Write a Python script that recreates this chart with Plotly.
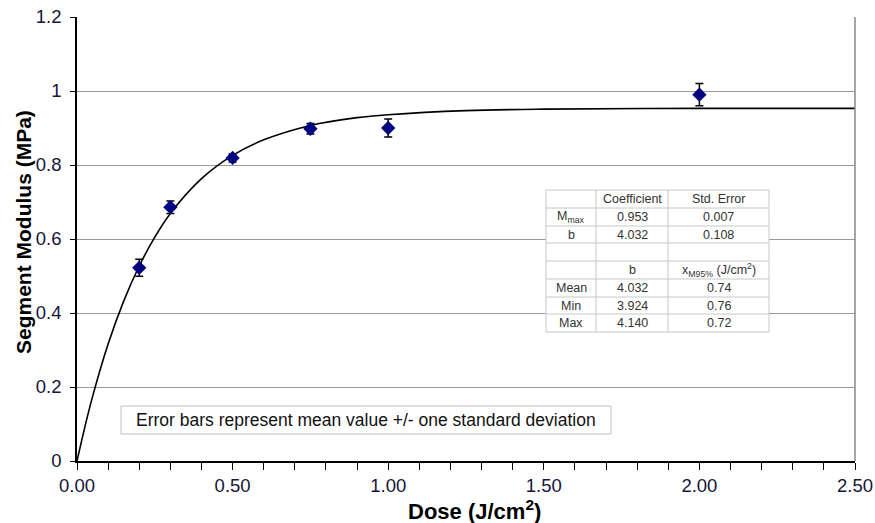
import plotly.graph_objects as go

# ---- data ----
dose = [0.2, 0.3, 0.5, 0.75, 1.0, 2.0]
modulus = [0.522, 0.686, 0.819, 0.898, 0.900, 0.990]
modulus_sd = [0.023, 0.017, 0.011, 0.014, 0.024, 0.030]

fit_x = [0, 0.025, 0.05, 0.1, 0.15, 0.2, 0.25, 0.3, 0.4, 0.5, 0.6, 0.75, 0.9, 1.0, 1.25, 1.5, 2.0, 2.5]
fit_y = [0, 0.091, 0.174, 0.316, 0.432, 0.527, 0.605, 0.669, 0.763, 0.826, 0.868, 0.907, 0.928, 0.936, 0.947, 0.951, 0.953, 0.953]

table_rows = [
    ["", "Coefficient", "Std. Error"],
    ["M<sub>max</sub>", "0.953", "0.007"],
    ["b", "4.032", "0.108"],
    ["", "", ""],
    ["", "b", "x<sub>M95%</sub> (J/cm<sup>2</sup>)"],
    ["Mean", "4.032", "0.74"],
    ["Min", "3.924", "0.76"],
    ["Max", "4.140", "0.72"],
]
note_text = "Error bars represent mean value +/- one standard deviation"
x_title = "<b>Dose (J/cm<sup>2</sup>)</b>"
y_title = "<b>Segment Modulus (MPa)</b>"

x_ticks = [0, 0.5, 1.0, 1.5, 2.0, 2.5]
y_ticks = [0, 0.2, 0.4, 0.6, 0.8, 1.0, 1.2]

# ---- layout helpers (pixel -> paper) ----
W, H = 875, 523
L, R, T, B = 77, 855, 17, 461


def px(x):
    return (x - L) / (R - L)


def py(y):
    return (B - y) / (B - T)


FONT = "Liberation Sans, Arial, sans-serif"
TICK_COLOR = "#15153a"

fig = go.Figure()

fig.add_trace(go.Scatter(
    x=fit_x, y=fit_y, mode="lines",
    line=dict(color="black", width=1.6, shape="spline", smoothing=1.0),
    hoverinfo="skip", showlegend=False,
))

fig.add_trace(go.Scatter(
    x=dose, y=modulus, mode="markers",
    marker=dict(symbol="diamond", size=11, color="#000080"),
    error_y=dict(type="data", array=modulus_sd, visible=True,
                 color="black", thickness=1.5, width=4),
    showlegend=False,
))

shapes = []
# right border of plot area
shapes.append(dict(type="line", xref="paper", yref="paper", x0=1, x1=1, y0=0, y1=1,
                   line=dict(color="#888888", width=1.5)))

# table
col_edges = [546, 596, 668, 769]
row_edges = [190, 208, 226, 243, 261, 279, 297, 314, 332]
shapes.append(dict(type="rect", xref="paper", yref="paper",
                   x0=px(col_edges[0]), x1=px(col_edges[-1]),
                   y0=py(row_edges[-1]), y1=py(row_edges[0]),
                   fillcolor="white", line=dict(color="#c8c8c8", width=1), layer="above"))
for ce in col_edges[1:-1]:
    shapes.append(dict(type="line", xref="paper", yref="paper",
                       x0=px(ce), x1=px(ce), y0=py(row_edges[-1]), y1=py(row_edges[0]),
                       line=dict(color="#c8c8c8", width=1), layer="above"))
for re_ in row_edges[1:-1]:
    shapes.append(dict(type="line", xref="paper", yref="paper",
                       x0=px(col_edges[0]), x1=px(col_edges[-1]), y0=py(re_), y1=py(re_),
                       line=dict(color="#c8c8c8", width=1), layer="above"))

annotations = []
for ri, row in enumerate(table_rows):
    yc = (row_edges[ri] + row_edges[ri + 1]) / 2
    for ci, txt in enumerate(row):
        if not txt:
            continue
        xc = (col_edges[ci] + col_edges[ci + 1]) / 2
        annotations.append(dict(
            xref="paper", yref="paper", x=px(xc), y=py(yc),
            text=txt, showarrow=False, xanchor="center", yanchor="middle",
            font=dict(family=FONT, size=12.5, color="#333333"),
        ))

# note box
shapes.append(dict(type="rect", xref="paper", yref="paper",
                   x0=px(121), x1=px(611), y0=py(434), y1=py(406),
                   fillcolor="white", line=dict(color="#c0c0c0", width=1), layer="above"))
annotations.append(dict(
    xref="paper", yref="paper", x=px(366), y=py(420),
    text=note_text, showarrow=False, xanchor="center", yanchor="middle",
    font=dict(family=FONT, size=17.5, color="#111111"),
))

# axis titles
annotations.append(dict(
    xref="paper", yref="paper", x=px(475), y=py(510),
    text=x_title, showarrow=False, xanchor="center", yanchor="middle",
    font=dict(family=FONT, size=22, color="black"),
))
annotations.append(dict(
    xref="paper", yref="paper", x=px(23), y=py(232),
    text=y_title, showarrow=False, xanchor="center", yanchor="middle", textangle=-90,
    font=dict(family=FONT, size=21, color="black"),
))

fig.update_layout(
    width=W, height=H,
    margin=dict(l=L, r=W - R, t=T, b=H - B),
    paper_bgcolor="white", plot_bgcolor="white",
    font=dict(family=FONT, size=18, color="#111111"),
    shapes=shapes, annotations=annotations,
    showlegend=False,
)

fig.update_xaxes(
    range=[0, 2.5], tickvals=x_ticks, tickformat=".2f",
    showgrid=False, zeroline=False, automargin=False,
    showline=True, linecolor="black", linewidth=1.5,
    ticks="outside", ticklen=7, tickcolor="black", tickwidth=1,
    minor=dict(ticks="outside", dtick=0.1, ticklen=7, tickcolor="black", showgrid=False),
    tickfont=dict(size=18.5, color=TICK_COLOR),
)
fig.update_yaxes(
    range=[0, 1.2], tickvals=y_ticks,
    showgrid=True, gridcolor="#999999", gridwidth=1, zeroline=False, automargin=False,
    showline=True, linecolor="black", linewidth=1.5,
    ticks="outside", ticklen=5, tickcolor="black", ticklabelstandoff=5,
    tickfont=dict(size=18.5, color=TICK_COLOR),
)

fig.write_html(
    "out.html",
    config={"displayModeBar": False},
    post_script="document.body.style.margin='0';document.body.style.padding='0';",
)
